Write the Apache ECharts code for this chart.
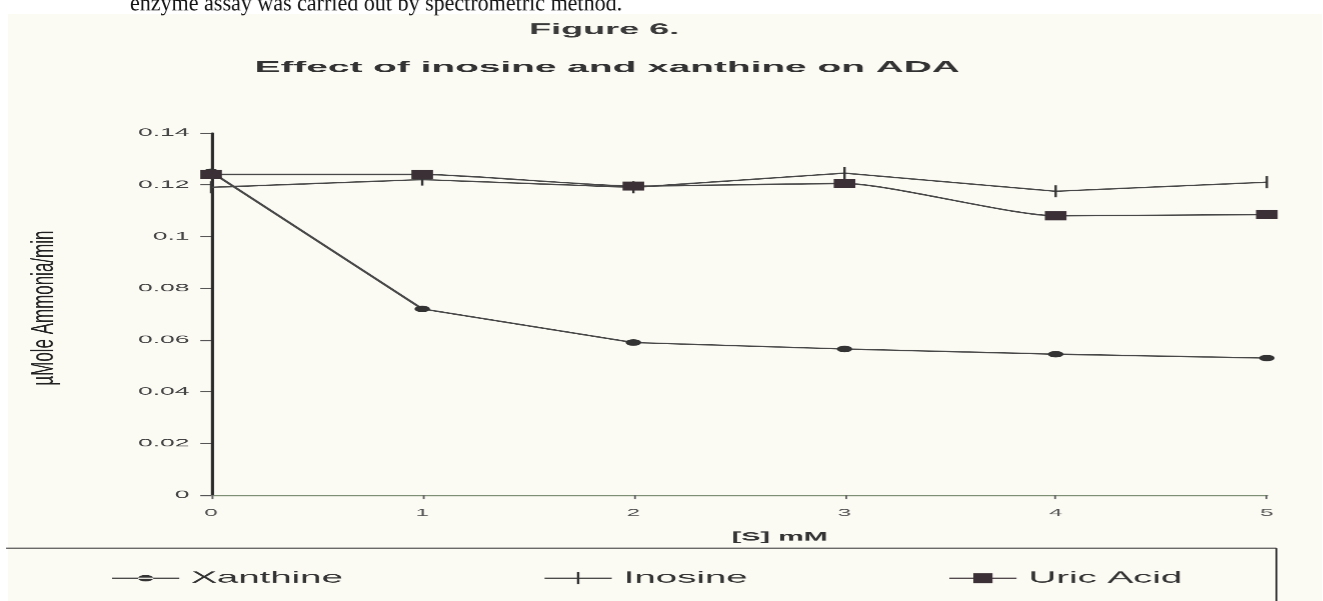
<!DOCTYPE html>
<html><head><meta charset="utf-8">
<script src="https://cdn.jsdelivr.net/npm/echarts@6/dist/echarts.min.js"></script>
<style>
html,body{margin:0;padding:0;background:#fff;overflow:hidden;width:1323px;height:601px}
#c{width:551.25px;height:601px;transform:scaleX(2.4);transform-origin:0 0}
</style>
</head><body><div id="c"></div>
<script>
// ---- data ----
const xValues = [0, 1, 2, 3, 4, 5];
const xanthine = [0.125, 0.072, 0.059, 0.0565, 0.0545, 0.053];
const inosine = [0.119, 0.122, 0.119, 0.1245, 0.1175, 0.121];
const uricAcid = [0.124, 0.124, 0.1195, 0.1205, 0.108, 0.1085];
const seriesNames = ['Xanthine', 'Inosine', 'Uric Acid'];
const yTicks = {min: 0, max: 0.14, step: 0.02};
const xTicks = {min: 0, max: 5, step: 1};

// The scanned figure is stretched horizontally; the whole chart is drawn in a
// narrower frame and stretched by S with CSS.
const S = 2.4;
const ctx2d = document.createElement('canvas').getContext('2d');
function widthOf(text, font) { ctx2d.font = font; return ctx2d.measureText(text).width; }
function fitScale(text, font, target) { return target / widthOf(text, font); }

const pairs = arr => xValues.map((x, i) => [x, arr[i]]);
const chart = echarts.init(document.getElementById('c'), null, {devicePixelRatio: S});
const lineStyle = {color: '#484848', width: 1.4};
const sans = '"Liberation Sans", Arial, sans-serif';

const topText = 'enzyme assay was carried out by spectrometric method.';
const topFont = '24px "Liberation Serif", serif';
const figText = 'Figure 6.';
const figFont = 'bold 15px ' + sans;
const titleText = 'Effect of inosine and xanthine on ADA';
const titleFont = 'bold 15px ' + sans;
const yName = 'µMole Ammonia/min';
const yNameFont = '13px "Liberation Sans Narrow", "Liberation Sans", Arial, sans-serif';

chart.setOption({
  backgroundColor: '#ffffff',
  animation: false,
  graphic: [
    {type: 'rect', shape: {x: 8 / S, y: 14, width: 1323 / S, height: 587}, style: {fill: '#fbfaf3'}, z: -10},
    {type: 'text', x: 130 / S, y: 4, scaleX: fitScale(topText, topFont, 492 / S),
     style: {text: topText, font: topFont, fill: '#111', verticalAlign: 'middle'}},
    {type: 'text', x: 604 / S, y: 30, scaleX: fitScale(figText, figFont, 150 / S),
     style: {text: figText, font: figFont, fill: '#3a3a3a', align: 'center', verticalAlign: 'middle'}},
    {type: 'text', x: 607 / S, y: 68, scaleX: fitScale(titleText, titleFont, 705 / S),
     style: {text: titleText, font: titleFont, fill: '#333', align: 'center', verticalAlign: 'middle'}},
    {type: 'text', x: 44 / S, y: 308, rotation: Math.PI / 2, scaleX: fitScale(yName, yNameFont, 155),
     style: {text: yName, font: yNameFont, fill: '#222', align: 'center', verticalAlign: 'middle'}},
    {type: 'line', shape: {x1: 6 / S, y1: 548, x2: 1276 / S, y2: 548}, style: {stroke: '#555', lineWidth: 1.2}},
    {type: 'line', shape: {x1: 1276 / S, y1: 548, x2: 1276 / S, y2: 601}, style: {stroke: '#333', lineWidth: 0.8}}
  ],
  grid: {left: 211 / S, right: 56 / S, top: 133, bottom: 106},
  legend: {
    bottom: 10, left: 100 / S, itemGap: 84, itemWidth: 28, itemHeight: 12,
    textStyle: {fontSize: 16, color: '#333', fontFamily: sans},
    data: [
      {name: 'Xanthine', icon: 'path://M0,2.9 L28,2.9 L28,4.1 L0,4.1 Z M10.8,3.5 A3.2,3.2 0 1,0 17.2,3.5 A3.2,3.2 0 1,0 10.8,3.5 Z'},
      {name: 'Inosine', icon: 'path://M0,5.4 L28,5.4 L28,6.6 L0,6.6 Z M13.5,0 L14.5,0 L14.5,12 L13.5,12 Z'},
      {name: 'Uric Acid', icon: 'path://M0,4.4 L28,4.4 L28,5.6 L0,5.6 Z M10,0 L18,0 L18,10 L10,10 Z'}
    ]
  },
  xAxis: {
    type: 'value', min: xTicks.min, max: xTicks.max, interval: xTicks.step,
    name: '[S] mM', nameLocation: 'middle', nameGap: 36,
    nameTextStyle: {fontWeight: 'bold', fontSize: 12, color: '#333', fontFamily: sans, padding: [0, 0, 0, 34]},
    axisLine: {lineStyle: {color: '#7d8f74', width: 1.2}},
    axisTick: {show: true, length: 4, lineStyle: {color: '#666', width: 0.8}},
    axisLabel: {fontSize: 10, color: '#555', margin: 13, fontFamily: sans},
    splitLine: {show: false}
  },
  yAxis: {
    type: 'value', min: yTicks.min, max: yTicks.max, interval: yTicks.step,
    axisLine: {show: true, onZero: false, lineStyle: {color: '#2a2a2a', width: 1.3}},
    axisTick: {show: true, length: 4.5, lineStyle: {color: '#555', width: 1.2}},
    axisLabel: {fontSize: 11, color: '#444', margin: 9, fontFamily: sans},
    splitLine: {show: false}
  },
  series: [
    {name: 'Xanthine', type: 'line', data: pairs(xanthine), symbol: 'circle', symbolSize: 6.5,
     lineStyle: lineStyle, itemStyle: {color: '#333'}, z: 3},
    {name: 'Inosine', type: 'line', data: pairs(inosine), symbol: 'rect', symbolSize: [1, 12],
     lineStyle: lineStyle, itemStyle: {color: '#333'}, z: 2},
    {name: 'Uric Acid', type: 'line', data: pairs(uricAcid), smooth: 0.2, symbol: 'rect', symbolSize: [9, 9],
     lineStyle: lineStyle, itemStyle: {color: '#3b3036'}, z: 4}
  ]
});
</script></body></html>
